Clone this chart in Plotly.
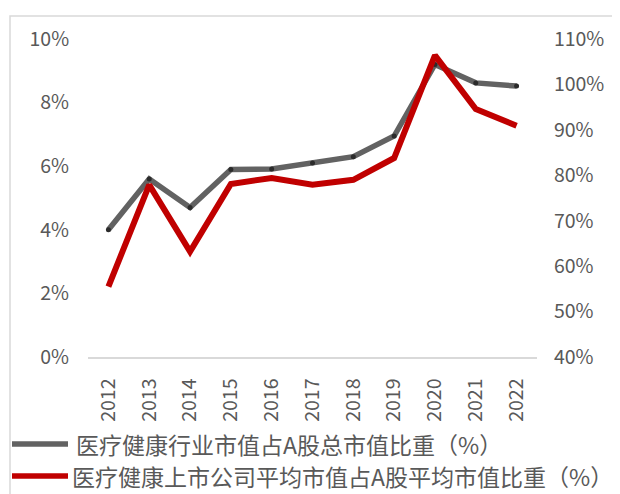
import plotly.graph_objects as go

# data
years = ["2012", "2013", "2014", "2015", "2016", "2017", "2018", "2019", "2020", "2021", "2022"]
industry_share = [4.0, 5.6, 4.7, 5.9, 5.91, 6.1, 6.3, 6.95, 9.2, 8.62, 8.52]  # % of A-share total market cap
avg_cap_ratio = [55.5, 77.9, 63.2, 78.1, 79.4, 77.9, 79.0, 83.8, 106.4, 94.6, 90.9]  # % of A-share average market cap

name_grey = "医疗健康行业市值占A股总市值比重（%）"
name_red = "医疗健康上市公司平均市值占A股平均市值比重（%）"

left_ticks = [0, 2, 4, 6, 8, 10]
right_ticks = [40, 50, 60, 70, 80, 90, 100, 110]

GREY = "#626262"
RED = "#c00000"
TEXT = "#595959"
FONT = "Noto Sans CJK SC"

# the page body adds an 8px margin, so the figure is 8px smaller and
# every pixel position below is shifted by 8
OFF = 8
W, H = 620 - OFF, 494 - OFF
L, T = 88 - OFF, 39 - OFF
PW, PH = 449, 318
R, B = W - L - PW, H - T - PH

def px_x(x):
    return (x - OFF - L) / PW

def px_y(y):
    return (T + PH - (y - OFF)) / PH

fig = go.Figure()

fig.add_trace(go.Scatter(
    x=years, y=industry_share, name=name_grey, mode="lines+markers",
    line=dict(color=GREY, width=5.5),
    marker=dict(color="#2b2b2b", size=5),
    showlegend=False,
))
fig.add_trace(go.Scatter(
    x=years, y=avg_cap_ratio, name=name_red, mode="lines", yaxis="y2",
    line=dict(color=RED, width=6),
    showlegend=False,
))

# frame + hand drawn legend
shapes = [
    dict(type="rect", xref="paper", yref="paper", layer="below",
         x0=px_x(10), x1=px_x(640), y0=px_y(520), y1=px_y(16),
         line=dict(color="#d9d9d9", width=1.5)),
]
annotations = []
for (yy, col, txt, tx) in [(444, GREY, name_grey, 74), (476, RED, name_red, 70)]:
    shapes.append(dict(type="line", xref="paper", yref="paper",
                       x0=px_x(12), x1=px_x(68), y0=px_y(yy), y1=px_y(yy),
                       line=dict(color=col, width=5.5)))
    annotations.append(dict(xref="paper", yref="paper", x=px_x(tx), y=px_y(yy),
                            text=txt, showarrow=False, xanchor="left", yanchor="middle",
                            font=dict(size=23, color=TEXT, family=FONT)))

fig.update_layout(
    width=W, height=H,
    margin=dict(l=L, r=R, t=T, b=B, autoexpand=False),
    paper_bgcolor="white", plot_bgcolor="white",
    font=dict(family=FONT, color=TEXT, size=18),
    shapes=shapes, annotations=annotations,
    xaxis=dict(
        type="category", range=[-0.5, 10.5], tickangle=-90,
        showgrid=False, showline=True, linecolor="#d9d9d9", linewidth=1.5,
        ticks="outside", ticklen=12, tickcolor="rgba(0,0,0,0)",
        tickfont=dict(size=19.5, color=TEXT),
    ),
    yaxis=dict(
        range=[0, 10], tickvals=left_ticks, ticktext=[f"{v}%" for v in left_ticks],
        showgrid=False, zeroline=False, showline=False,
        ticks="outside", ticklen=14, tickcolor="rgba(0,0,0,0)",
        tickfont=dict(size=19.5, color=TEXT),
    ),
    yaxis2=dict(
        range=[40, 110], tickvals=right_ticks, ticktext=[f"{v}%" for v in right_ticks],
        overlaying="y", side="right",
        showgrid=False, zeroline=False, showline=False,
        ticks="outside", ticklen=12, tickcolor="rgba(0,0,0,0)",
        tickfont=dict(size=19.5, color=TEXT),
    ),
)

fig.write_html("out.html")
